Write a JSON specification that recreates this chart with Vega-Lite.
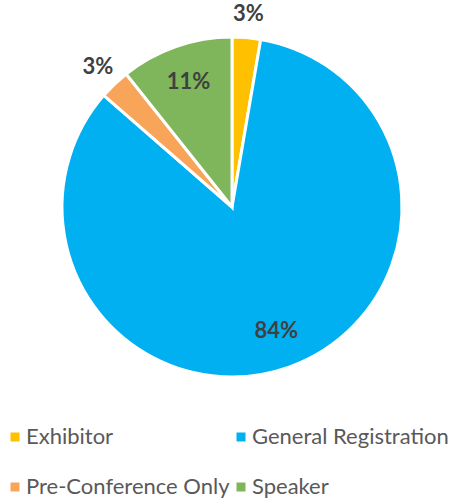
{
  "$schema": "https://vega.github.io/schema/vega-lite/v6.json",
  "width": 448,
  "height": 414,
  "autosize": {"type": "none"},
  "padding": {"left": 8, "top": 0, "right": 0, "bottom": 88},
  "background": "white",
  "view": {"stroke": null},
  "data": {
    "values": [
      {"category": "Exhibitor", "value": 0.027},
      {"category": "General Registration", "value": 0.837},
      {"category": "Pre-Conference Only", "value": 0.029},
      {"category": "Speaker", "value": 0.107}
    ]
  },
  "encoding": {
    "theta": {"field": "value", "type": "quantitative", "stack": true},
    "order": {"field": "category", "sort": "ascending"},
    "color": {
      "field": "category",
      "type": "nominal",
      "scale": {
        "domain": ["Exhibitor", "General Registration", "Pre-Conference Only", "Speaker"],
        "range": ["#FFC000", "#00B0F0", "#F8A55A", "#7FB55B"]
      },
      "legend": {
        "title": null,
        "orient": "none",
        "legendX": -4,
        "legendY": 426,
        "columns": 2,
        "direction": "horizontal",
        "symbolType": "square",
        "symbolSize": 81,
        "symbolStrokeWidth": 0,
        "labelFont": "Lato",
        "labelFontSize": 22,
        "labelColor": "#595959",
        "labelOffset": 0,
        "rowPadding": 28,
        "columnPadding": 0,
        "labelLimit": 300
      }
    }
  },
  "layer": [
    {
      "mark": {"type": "arc", "outerRadius": 170, "stroke": "white", "strokeWidth": 3}
    },
    {
      "mark": {"type": "text", "radius": 132, "font": "Lato", "fontWeight": "bold", "fontSize": 22, "fill": "#404040"},
      "encoding": {
        "text": {"condition": {"test": "datum.value > 0.05", "field": "value", "type": "quantitative", "format": ".0%"}, "value": ""},
        "color": {"value": "#404040"}
      }
    },
    {
      "mark": {"type": "text", "radius": 194, "font": "Lato", "fontWeight": "bold", "fontSize": 22, "fill": "#404040"},
      "encoding": {
        "text": {"condition": {"test": "datum.value < 0.05", "field": "value", "type": "quantitative", "format": ".0%"}, "value": ""},
        "color": {"value": "#404040"}
      }
    }
  ]
}
